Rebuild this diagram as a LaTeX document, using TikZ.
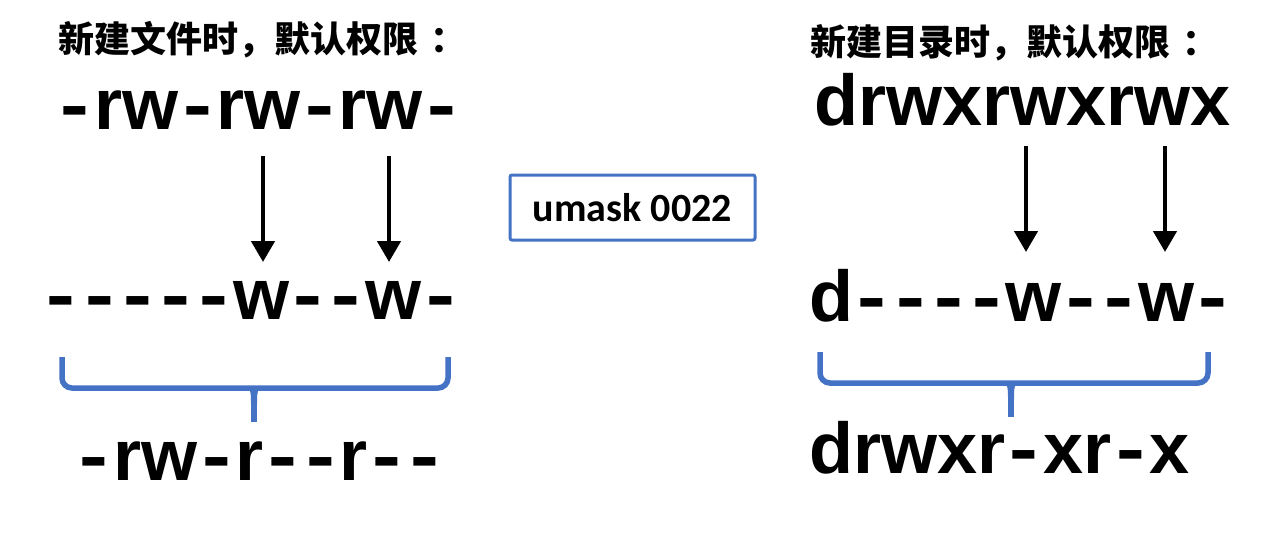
\documentclass[tikz,border=0pt]{standalone}
\usepackage{fontspec}
\usepackage{graphicx}
\setmainfont{Liberation Sans}
\newfontfamily\cjk{Noto Sans CJK SC}
\newfontfamily\umk{Carlito}
\usetikzlibrary{arrows.meta}
\definecolor{bluec}{HTML}{4472C4}
\newcommand\hy{\makebox[0.53em]{\scalebox{1.2}[1]{-}}}
\tikzset{
  title/.style={anchor=base west,inner sep=0pt,font=\cjk\bfseries\fontsize{36}{36}\selectfont},
  perm/.style={anchor=base west,inner sep=0pt,font=\bfseries\fontsize{72}{72}\selectfont},
  arr/.style={line width=4.5pt,-{Triangle[width=23pt,length=21pt]}},
  brace/.style={draw=bluec,line width=5.5pt,rounded corners=10pt},
  umbox/.style={draw=bluec,line width=3pt,rounded corners=2pt,minimum width=245pt,minimum height=65pt,inner sep=0pt,font=\umk\bfseries\fontsize{40}{40}\selectfont}
}
\begin{document}
\begin{tikzpicture}[x=1pt,y=-1pt]
\useasboundingbox (0,0) rectangle (1280,544);
% left column
\node[title] (tl) at (58,52) {新建文件时，默认权限\hspace{0.35em}：};
\node[perm] (l1) at (56,129) {\hy rw\hy rw\hy rw\hy};
\node[perm] (l2) at (42,319) {\hy\hy\hy\hy\hy w\hy\hy w\hy};
\node[perm] (l3) at (75,480) {\hy rw\hy r\hy\hy r\hy\hy};
\coordinate (la1s) at (263,156);
\coordinate (la1e) at (263,262);
\coordinate (la2s) at (389,156);
\coordinate (la2e) at (389,262);
\draw[arr] (la1s) -- (la1e);
\draw[arr] (la2s) -- (la2e);
\coordinate (lbl) at (62,357);
\coordinate (lbr) at (448,357);
\coordinate (lbt) at (254,422);
\draw[brace] (lbl) -- (62,388) -- (448,388) -- (lbr);
\fill[bluec] (241,386) .. controls (251,386) and (251,392) .. (251,404) -- (257,404) .. controls (257,392) and (257,386) .. (267,386) -- cycle;
\draw[bluec,line width=5.5pt] (254,396) -- (lbt);
% middle box
\node[umbox] (um) at (632.5,207.5) {umask 0022};
% right column
\node[title] (tr) at (810,55) {新建目录时，默认权限\hspace{0.35em}：};
\node[perm] (r1) at (814,125) {drwxrwxrwx};
\node[perm] (r2) at (809,321) {d\hy\hy\hy\hy w\hy\hy w\hy};
\node[perm] (r3) at (809,473) {drwxr\hy xr\hy x};
\coordinate (ra1s) at (1026,146);
\coordinate (ra1e) at (1026,252);
\coordinate (ra2s) at (1165,146);
\coordinate (ra2e) at (1165,252);
\draw[arr] (ra1s) -- (ra1e);
\draw[arr] (ra2s) -- (ra2e);
\coordinate (rbl) at (820,352);
\coordinate (rbr) at (1208,352);
\coordinate (rbt) at (1011,417);
\draw[brace] (rbl) -- (820,383) -- (1208,383) -- (rbr);
\fill[bluec] (998,381) .. controls (1008,381) and (1008,387) .. (1008,399) -- (1014,399) .. controls (1014,387) and (1014,381) .. (1024,381) -- cycle;
\draw[bluec,line width=5.5pt] (1011,391) -- (rbt);
\end{tikzpicture}
\end{document}
